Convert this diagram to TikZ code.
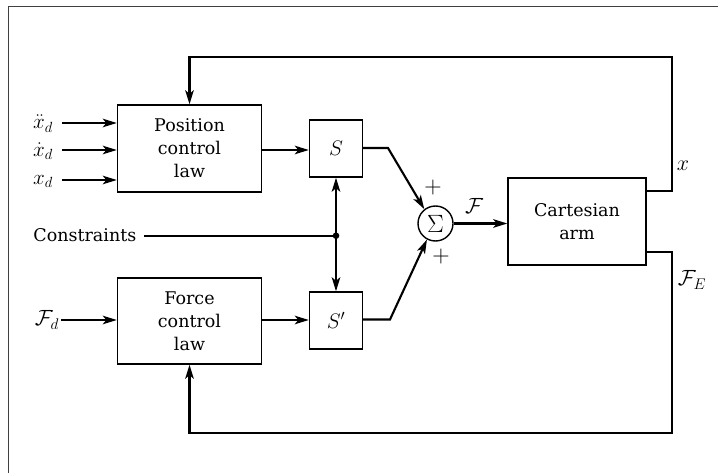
\RequirePackage{fix-cm}
\documentclass[tikz,border=0pt]{standalone}
\usepackage{fontspec}
\setmainfont{DejaVu Serif}
\usetikzlibrary{arrows.meta,calc}
\begin{document}
\begin{tikzpicture}[x=1pt,y=-1pt,
  blk/.style={draw,line width=1.4pt,inner sep=0pt,align=center,font=\fontsize{17.5}{23}\selectfont},
  sumnode/.style={draw,circle,line width=1.4pt,minimum size=35pt,inner sep=0pt},
  conn/.style={line width=2.1pt,-{Stealth[length=14pt,width=8.5pt,inset=3.5pt]}},
  wire/.style={line width=2.1pt},
  lbl/.style={font=\fontsize{22}{23}\selectfont,inner sep=0pt},
  inlbl/.style={font=\fontsize{21}{22}\selectfont,inner sep=0pt,anchor=base},
  frm/.style={line width=1pt,draw=black!75}]
\useasboundingbox (0,0) rectangle (718,473);
\draw[frm] (8.5,473) -- (8.5,6.5) -- (718,6.5);

% blocks
\node[blk,minimum width=144pt,minimum height=87pt] (pos) at (189.5,148.5) {Position\\control\\law};
\node[blk,minimum width=144pt,minimum height=86pt] (force) at (189.5,321) {Force\\control\\law};
\node[blk,minimum width=53pt,minimum height=57pt,font=\fontsize{21}{23}\selectfont] (S) at (336,148.5) {$S$};
\node[blk,minimum width=53pt,minimum height=57pt,font=\fontsize{21}{23}\selectfont] (Sp) at (336,320.5) {$S'$};
\node[sumnode,font=\fontsize{25}{26}\selectfont] (sum) at (435.5,223.5) {$\Sigma$};
\node[blk,minimum width=138pt,minimum height=87pt] (arm) at (577,221.5) {Cartesian\\arm};

% input labels
\node[inlbl] (xdd) at (43,129) {$\ddot{x}_d$};
\node[inlbl] (xd1) at (43,156.5) {$\dot{x}_d$};
\node[inlbl] (xd0) at (43,184.5) {$x_d$};
\node[lbl,anchor=base] (Fd) at (47,326) {$\mathcal{F}_d$};
\node[blk,draw=none,anchor=base east,inner sep=0pt] (cons) at (137,242) {Constraints};

\coordinate (i1) at (62,123);
\coordinate (i2) at (62,150);
\coordinate (i3) at (62,180);
\coordinate (i4) at (61,320);
\draw[conn] (i1) -- (i1 -| pos.west);
\draw[conn] (i2) -- (i2 -| pos.west);
\draw[conn] (i3) -- (i3 -| pos.west);
\draw[conn] (i4) -- (i4 -| force.west);

% to selection matrices
\draw[conn] (pos.east |- 0,150) -- (S.west |- 0,150);
\draw[conn] (force.east |- 0,320) -- (Sp.west |- 0,320);

% constraints
\coordinate (dot) at (336,235.7);
\coordinate (c0) at (144,235.7);
\draw[wire] (c0) -- (dot);
\fill (dot) circle (3.3pt);
\draw[conn] (dot) -- (S.south);
\draw[conn] (dot) -- (Sp.north);

% to summation
\coordinate (k1) at (388,148);
\coordinate (k2) at (390,319.5);
\draw[conn] (S.east |- k1) -- (k1) -- (sum.128);
\draw[conn] (Sp.east |- k2) -- (k2) -- (sum.242);
\node[lbl,font=\fontsize{24}{25}\selectfont] (p1) at (433,188) {$+$};
\node[lbl,font=\fontsize{24}{25}\selectfont] (p2) at (441,257) {$+$};

\draw[conn] (sum.east) -- (sum.east -| arm.west);
\node[lbl] (F) at (474,206) {$\mathcal{F}$};

% feedback
\coordinate (ax) at (672,191);
\coordinate (af) at (672,252);
\draw[conn] (arm.east |- ax) -- (ax) -- (672,57) -- (pos.north |- 0,57) -- (pos.north);
\draw[conn] (arm.east |- af) -- (af) -- (672,433) -- (force.south |- 0,433) -- (force.south);
\node[lbl] (xl) at (683,166) {$x$};
\node[lbl] (FE) at (692,280) {$\mathcal{F}_E$};
\end{tikzpicture}
\end{document}
